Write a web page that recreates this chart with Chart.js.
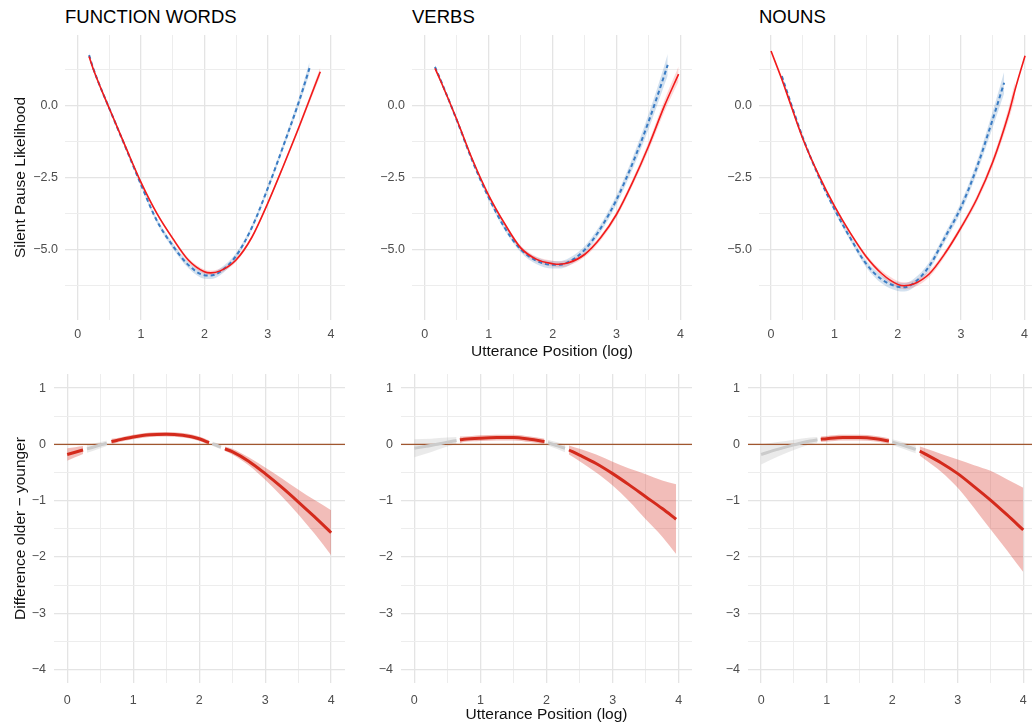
<!DOCTYPE html>
<html>
<head>
<meta charset="utf-8">
<script src="https://cdn.jsdelivr.net/npm/chart.js@4.4.0/dist/chart.umd.min.js"></script>
<style>
  body { margin: 0; width: 1032px; height: 724px; overflow: hidden; background: #fff; position: relative;
         font-family: "Liberation Sans", Arial, Helvetica, sans-serif; }
  canvas { position: absolute; }
  .strip { position: absolute; top: 8px; font-size: 18.5px; line-height: 18.5px; color: #000; white-space: nowrap; }
</style>
</head>
<body>
<div class="strip" style="left:65px">FUNCTION WORDS</div>
<div class="strip" style="left:412px">VERBS</div>
<div class="strip" style="left:759px">NOUNS</div>

<canvas id="fwTop"></canvas>
<canvas id="vbTop"></canvas>
<canvas id="nnTop"></canvas>
<canvas id="fwDiff"></canvas>
<canvas id="vbDiff"></canvas>
<canvas id="nnDiff"></canvas>

<script>
// ---- fitted silent-pause likelihood, older (red) vs younger (blue) ----
const fwOlderX = [0.18, 0.25, 0.5, 0.75, 1.0, 1.25, 1.5, 1.75, 2.0, 2.1, 2.25, 2.5, 2.75, 3.0, 3.25, 3.5, 3.75, 3.83];
const fwOlderY = [1.71, 1.25, -0.10, -1.40, -2.67, -3.75, -4.62, -5.38, -5.78, -5.82, -5.75, -5.37, -4.58, -3.40, -2.08, -0.71, 0.73, 1.18];
const fwOlderCI = [0.06, 0.05, 0.04, 0.04, 0.04, 0.05, 0.06, 0.07, 0.08, 0.08, 0.08, 0.07, 0.06, 0.06, 0.07, 0.09, 0.13, 0.15];
const fwYoungerX = [0.18, 0.25, 0.5, 0.75, 1.0, 1.25, 1.5, 1.75, 2.0, 2.1, 2.25, 2.5, 2.75, 3.0, 3.25, 3.5, 3.66];
const fwYoungerY = [1.76, 1.27, -0.10, -1.42, -2.75, -4.0, -4.87, -5.55, -5.9, -5.91, -5.78, -5.23, -4.24, -2.88, -1.38, 0.19, 1.31];
const fwYoungerCI = [0.08, 0.07, 0.06, 0.06, 0.07, 0.08, 0.1, 0.11, 0.12, 0.12, 0.12, 0.1, 0.09, 0.09, 0.11, 0.15, 0.2];

const vbOlderX = [0.16, 0.25, 0.5, 0.75, 1.0, 1.25, 1.5, 1.75, 2.0, 2.1, 2.25, 2.5, 2.75, 3.0, 3.25, 3.5, 3.75, 3.97];
const vbOlderY = [1.30, 0.85, -0.48, -1.90, -3.12, -4.11, -4.95, -5.35, -5.50, -5.52, -5.47, -5.18, -4.60, -3.78, -2.67, -1.41, 0.0, 1.10];
const vbOlderCI = [0.05, 0.05, 0.04, 0.04, 0.05, 0.06, 0.08, 0.09, 0.1, 0.1, 0.1, 0.09, 0.09, 0.1, 0.12, 0.15, 0.2, 0.26];
const vbYoungerX = [0.16, 0.25, 0.5, 0.75, 1.0, 1.25, 1.5, 1.75, 2.0, 2.1, 2.25, 2.5, 2.75, 3.0, 3.25, 3.5, 3.75, 3.80];
const vbYoungerY = [1.35, 0.88, -0.50, -1.95, -3.20, -4.25, -5.0, -5.4, -5.54, -5.54, -5.44, -5.02, -4.27, -3.27, -2.01, -0.56, 1.08, 1.42];
const vbYoungerCI = [0.06, 0.06, 0.06, 0.07, 0.08, 0.09, 0.1, 0.12, 0.13, 0.13, 0.13, 0.13, 0.14, 0.16, 0.2, 0.26, 0.34, 0.38];

const nnOlderX = [0.0, 0.17, 0.25, 0.5, 0.75, 1.0, 1.25, 1.5, 1.75, 2.0, 2.1, 2.25, 2.5, 2.75, 3.0, 3.25, 3.5, 3.75, 3.85, 4.01];
const nnOlderY = [1.90, 0.92, 0.42, -1.14, -2.40, -3.49, -4.43, -5.25, -5.85, -6.22, -6.27, -6.21, -5.85, -5.13, -4.24, -3.24, -1.96, -0.29, 0.54, 1.74];
const nnOlderCI = [null, 0.06, 0.06, 0.05, 0.05, 0.06, 0.07, 0.08, 0.1, 0.12, 0.12, 0.12, 0.11, 0.1, 0.1, 0.12, 0.15, 0.22, 0.28, null];
const nnYoungerX = [0.17, 0.25, 0.5, 0.75, 1.0, 1.25, 1.5, 1.75, 2.0, 2.1, 2.25, 2.5, 2.75, 3.0, 3.25, 3.5, 3.68];
const nnYoungerY = [1.03, 0.50, -1.10, -2.45, -3.60, -4.60, -5.50, -6.05, -6.30, -6.32, -6.18, -5.58, -4.57, -3.53, -2.14, -0.47, 0.80];
const nnYoungerCI = [0.06, 0.06, 0.06, 0.07, 0.08, 0.1, 0.12, 0.14, 0.15, 0.15, 0.15, 0.14, 0.15, 0.17, 0.2, 0.28, 0.38];

// ---- difference older - younger; sig = 1 where the interval excludes zero ----
const fwDiffX = [0, 0.12, 0.24, 0.3, 0.45, 0.6, 0.67, 0.75, 1.0, 1.25, 1.5, 1.75, 2.0, 2.15, 2.2, 2.27, 2.33, 2.39, 2.5, 2.75, 3.0, 3.25, 3.5, 3.75, 4.0];
const fwDiffY = [-0.18, -0.14, -0.10, -0.08, -0.03, 0.02, 0.05, 0.07, 0.13, 0.17, 0.18, 0.16, 0.10, 0.03, 0.01, -0.02, -0.05, -0.08, -0.13, -0.30, -0.52, -0.76, -1.02, -1.29, -1.57];
const fwDiffCI = [0.11, 0.09, 0.07, 0.07, 0.06, 0.05, 0.05, 0.04, 0.04, 0.04, 0.04, 0.04, 0.04, 0.04, 0.04, 0.04, 0.04, 0.04, 0.05, 0.07, 0.11, 0.16, 0.22, 0.3, 0.4];
const fwDiffSig = [1, 1, 1, 0, 0, 0, 1, 1, 1, 1, 1, 1, 1, 1, 0, 0, 0, 1, 1, 1, 1, 1, 1, 1, 1];

const vbDiffX = [0, 0.25, 0.5, 0.64, 0.69, 0.75, 1.0, 1.25, 1.5, 1.75, 1.97, 2.02, 2.15, 2.28, 2.34, 2.5, 2.75, 3.0, 3.25, 3.5, 3.75, 3.96];
const vbDiffY = [-0.07, -0.02, 0.04, 0.07, 0.08, 0.09, 0.11, 0.12, 0.12, 0.09, 0.05, 0.03, -0.02, -0.07, -0.10, -0.19, -0.34, -0.52, -0.72, -0.93, -1.14, -1.33];
const vbDiffCI = [0.16, 0.12, 0.08, 0.06, 0.06, 0.05, 0.05, 0.05, 0.05, 0.05, 0.05, 0.05, 0.06, 0.07, 0.08, 0.11, 0.16, 0.21, 0.29, 0.4, 0.5, 0.62];
const vbDiffSig = [0, 0, 0, 0, 1, 1, 1, 1, 1, 1, 1, 0, 0, 0, 1, 1, 1, 1, 1, 1, 1, 1];

const nnDiffX = [0, 0.25, 0.5, 0.75, 0.86, 0.91, 1.0, 1.25, 1.5, 1.75, 1.95, 2.0, 2.2, 2.36, 2.42, 2.5, 2.75, 3.0, 3.25, 3.5, 3.75, 4.0];
const nnDiffY = [-0.18, -0.09, -0.01, 0.06, 0.08, 0.09, 0.10, 0.12, 0.12, 0.10, 0.06, 0.04, -0.03, -0.09, -0.12, -0.17, -0.33, -0.52, -0.75, -0.99, -1.25, -1.52];
const nnDiffCI = [0.18, 0.13, 0.09, 0.06, 0.05, 0.05, 0.05, 0.05, 0.05, 0.05, 0.05, 0.05, 0.06, 0.07, 0.08, 0.1, 0.16, 0.25, 0.38, 0.52, 0.63, 0.75];
const nnDiffSig = [0, 0, 0, 0, 0, 1, 1, 1, 1, 1, 1, 0, 0, 0, 1, 1, 1, 1, 1, 1, 1, 1];

// axis breaks
const xMajor = [0, 1, 2, 3, 4];
const xMinor = [0.5, 1.5, 2.5, 3.5];
const topYMajor = [-5, -2.5, 0];
const topYMinor = [-6.25, -3.75, -1.25, 1.25];
const diffYMajor = [-4, -3, -2, -1, 0, 1];
const diffYMinor = [-3.5, -2.5, -1.5, -0.5, 0.5];

Chart.defaults.font.family = '"Liberation Sans", Arial, Helvetica, sans-serif';
Chart.defaults.color = '#4d4d4d';

const RED_TOP = '#f21a1a', BLUE_TOP = '#3a7cc4';
const RED_TOP_BAND = 'rgba(240, 60, 60, 0.2)', BLUE_TOP_BAND = 'rgba(70, 130, 190, 0.24)';
const RED_DIFF = '#d42a1c', GREY_DIFF = '#cbcbcb';
const RED_DIFF_BAND = 'rgba(214, 50, 36, 0.32)', GREY_DIFF_BAND = 'rgba(185, 185, 185, 0.3)';
const ZERO_LINE = '#a0562f';
const PAD_TOP = 18, PAD_RIGHT = 12;

const minus = s => s.replace('-', '\u2212');
const pts = (xs, ys) => xs.map((x, i) => ({ x, y: ys[i] }));

function gridStyle(majors) {
  const isMajor = ctx => ctx.tick && majors.includes(ctx.tick.value);
  return {
    drawTicks: false,
    color: ctx => isMajor(ctx) ? '#e4e4e4' : '#ededed',
    lineWidth: ctx => isMajor(ctx) ? 1.3 : 1
  };
}

function xAxis(min, max, height, pad, title, titlePad) {
  return {
    type: 'linear', min, max,
    afterBuildTicks: s => { s.ticks = xMajor.concat(xMinor).sort((a, b) => a - b).map(v => ({ value: v })); },
    afterFit: s => { s.height = height; },
    grid: gridStyle(xMajor),
    border: { display: false },
    ticks: {
      autoSkip: false, maxRotation: 0, padding: pad, font: { size: 12.5 }, color: '#4d4d4d',
      callback: v => xMajor.includes(v) ? minus(String(v)) : ''
    },
    title: title
      ? { display: true, text: title, color: '#111', font: { size: 15.5 }, padding: { top: 0, bottom: titlePad } }
      : { display: false }
  };
}

function yAxis(min, max, majors, minors, width, pad, fmt, title) {
  return {
    type: 'linear', min, max,
    afterBuildTicks: s => { s.ticks = majors.concat(minors).sort((a, b) => a - b).map(v => ({ value: v })); },
    afterFit: s => { s.width = width; },
    grid: gridStyle(majors),
    border: { display: false },
    ticks: {
      autoSkip: false, padding: pad, font: { size: 12.5 }, color: '#4d4d4d',
      callback: v => majors.includes(v) ? minus(fmt(v)) : ''
    },
    title: title
      ? { display: true, text: title, color: '#111', font: { size: 15.5 }, padding: { top: 11, bottom: 0 } }
      : { display: false }
  };
}

function line(data, color, width, order, dash) {
  return {
    data, borderColor: color, borderWidth: width, borderDash: dash || [],
    borderCapStyle: 'butt', pointRadius: 0, fill: false, order
  };
}

function band(xs, ys, ci, color, order) {
  const up = [], lo = [];
  xs.forEach((x, i) => {
    if (ci[i] == null) return;
    up.push({ x, y: ys[i] + ci[i] });
    lo.push({ x, y: ys[i] - ci[i] });
  });
  return [
    { data: up, borderWidth: 0, pointRadius: 0, fill: '+1', backgroundColor: color, order },
    { data: lo, borderWidth: 0, pointRadius: 0, fill: false, order }
  ];
}

// split a difference curve into runs of equal significance, each with its own ribbon
function diffDatasets(xs, ys, ci, sig) {
  const out = [];
  let i = 0;
  while (i < xs.length) {
    let j = i;
    while (j + 1 < xs.length && sig[j + 1] === sig[i]) j++;
    const sx = xs.slice(i, j + 1), sy = ys.slice(i, j + 1), sc = ci.slice(i, j + 1);
    const on = sig[i] === 1;
    out.push(line(pts(sx, sy), on ? RED_DIFF : GREY_DIFF, 3, 1));
    out.push(...band(sx, sy, sc, on ? RED_DIFF_BAND : GREY_DIFF_BAND, 10));
    i = j + 1;
  }
  return out;
}

// area = plot region in page pixels; yW / xH = room kept for the axes
function makeChart(id, area, yW, xH, datasets, scales) {
  const cv = document.getElementById(id);
  const w = yW + area.w + PAD_RIGHT, h = PAD_TOP + area.h + xH;
  cv.width = w; cv.height = h;
  cv.style.width = w + 'px'; cv.style.height = h + 'px';
  cv.style.left = (area.left - yW) + 'px';
  cv.style.top = (area.top - PAD_TOP) + 'px';
  return new Chart(cv, {
    type: 'line',
    data: { datasets },
    options: {
      responsive: false, animation: false, events: [],
      layout: { padding: { top: PAD_TOP, right: PAD_RIGHT, bottom: 0, left: 0 } },
      plugins: { legend: { display: false }, tooltip: { enabled: false } },
      elements: { line: { cubicInterpolationMode: 'monotone' } },
      scales
    }
  });
}

function topDatasets(oX, oY, oCI, yX, yY, yCI) {
  return [
    line(pts(oX, oY), RED_TOP, 1.6, 1),
    line(pts(yX, yY), BLUE_TOP, 2, 2, [4, 3]),
    ...band(oX, oY, oCI, RED_TOP_BAND, 8),
    ...band(yX, yY, yCI, BLUE_TOP_BAND, 9)
  ];
}

const topFmt = v => v.toFixed(1);
const diffFmt = v => String(v);
const TOP = { top: 35, h: 285, w: 280 };
const BOT = { top: 374, h: 309, w: 291 };

makeChart('fwTop', { ...TOP, left: 65 }, 65, 42,
  topDatasets(fwOlderX, fwOlderY, fwOlderCI, fwYoungerX, fwYoungerY, fwYoungerCI),
  { x: xAxis(-0.2, 4.22, 42, 7.5), y: yAxis(-7.46, 2.46, topYMajor, topYMinor, 65, 7, topFmt, 'Silent Pause Likelihood') });

makeChart('vbTop', { ...TOP, left: 412 }, 50, 42,
  topDatasets(vbOlderX, vbOlderY, vbOlderCI, vbYoungerX, vbYoungerY, vbYoungerCI),
  { x: xAxis(-0.2, 4.18, 42, 7.5, 'Utterance Position (log)', 0.7), y: yAxis(-7.46, 2.46, topYMajor, topYMinor, 50, 7, topFmt) });

makeChart('nnTop', { ...TOP, left: 759 }, 50, 42,
  topDatasets(nnOlderX, nnOlderY, nnOlderCI, nnYoungerX, nnYoungerY, nnYoungerCI),
  { x: xAxis(-0.19, 4.23, 42, 7.5), y: yAxis(-7.46, 2.46, topYMajor, topYMinor, 50, 7, topFmt) });

function diffChart(id, left, yW, xMin, xMax, xs, ys, ci, sig, xTitle, yTitle) {
  const ds = diffDatasets(xs, ys, ci, sig);
  ds.push(line([{ x: xMin, y: 0 }, { x: xMax, y: 0 }], ZERO_LINE, 1.3, 5));
  return makeChart(id, { ...BOT, left }, yW, 41, ds, {
    x: xAxis(xMin, xMax, 41, 10, xTitle, 0),
    y: yAxis(-4.24, 1.25, diffYMajor, diffYMinor, yW, 8, diffFmt, yTitle)
  });
}

diffChart('fwDiff', 54, 54, -0.2, 4.21, fwDiffX, fwDiffY, fwDiffCI, fwDiffSig, null, 'Difference older \u2212 younger');
diffChart('vbDiff', 401, 50, -0.2, 4.2, vbDiffX, vbDiffY, vbDiffCI, vbDiffSig, 'Utterance Position (log)');
diffChart('nnDiff', 748, 50, -0.2, 4.24, nnDiffX, nnDiffY, nnDiffCI, nnDiffSig, null);
</script>
</body>
</html>
